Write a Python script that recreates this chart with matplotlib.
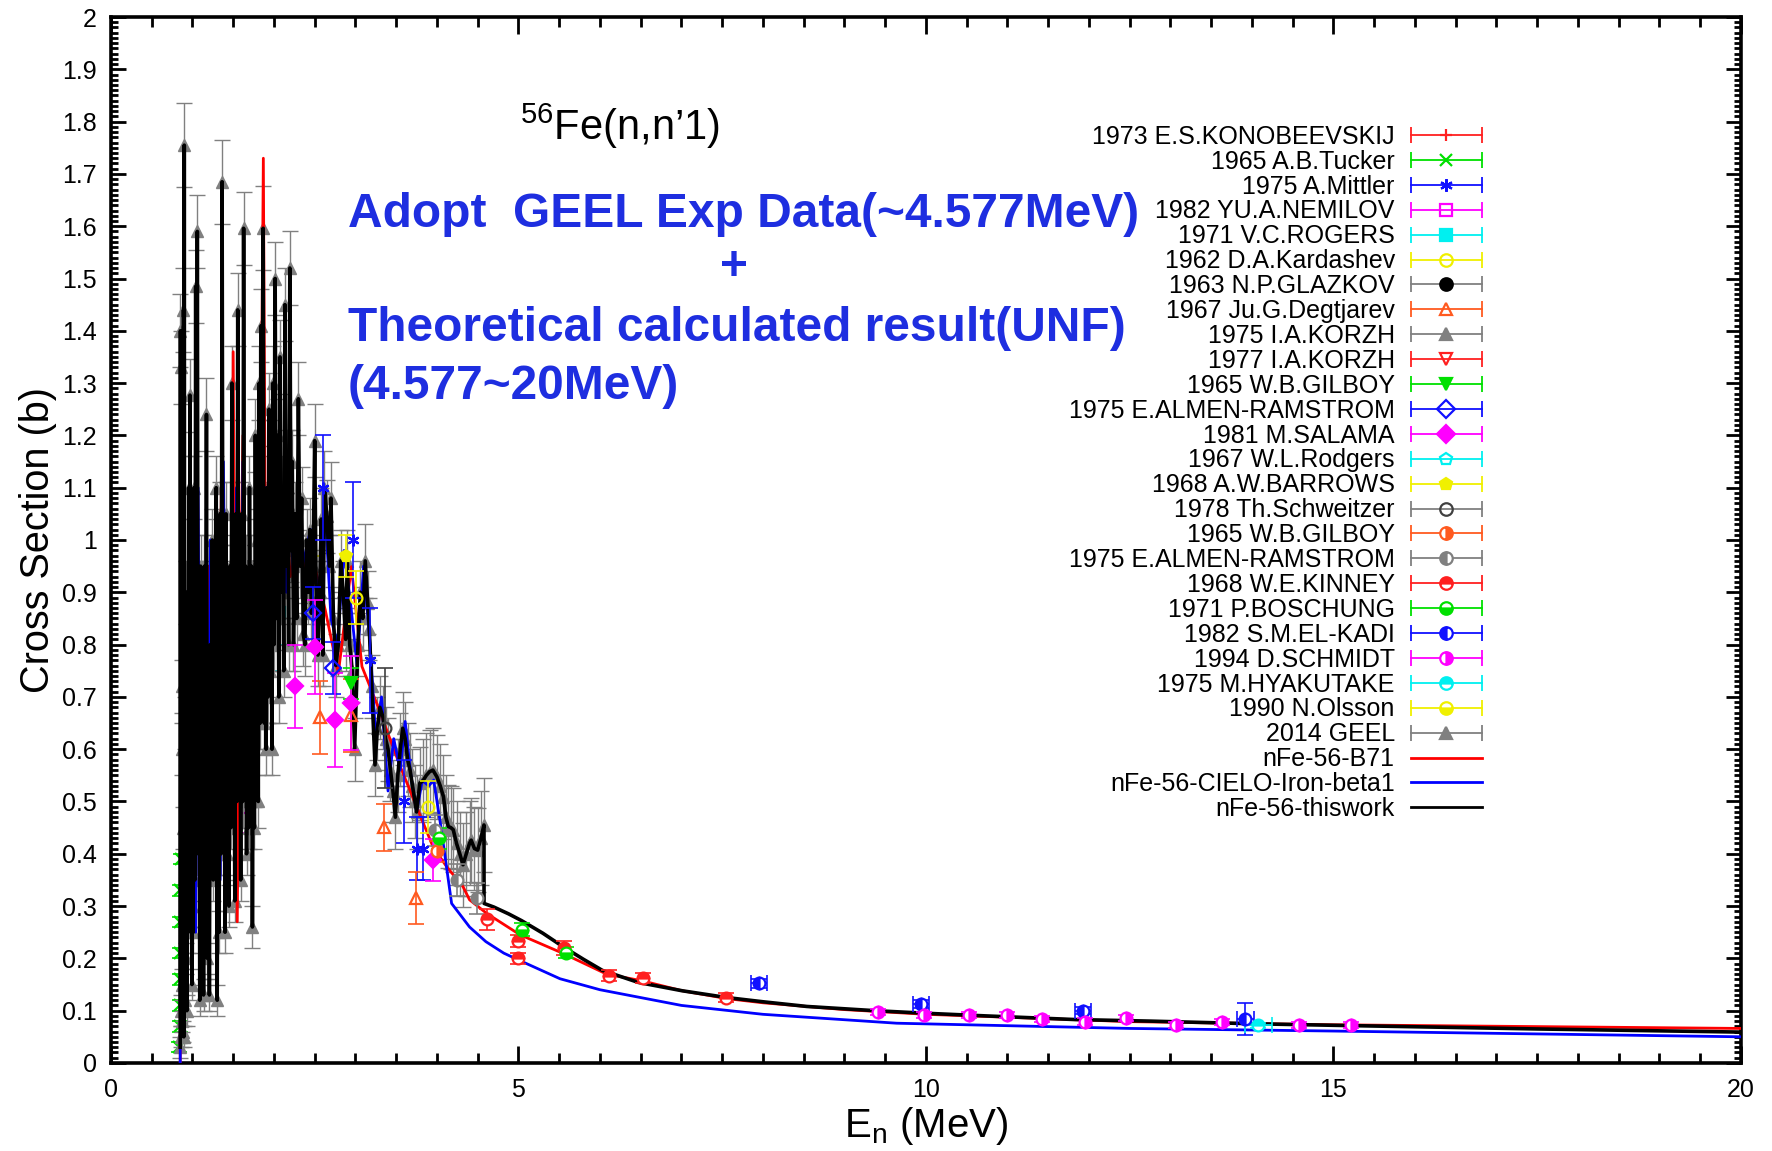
import matplotlib
matplotlib.use('Agg')
import matplotlib.pyplot as plt
from matplotlib.lines import Line2D
from matplotlib.legend_handler import HandlerLine2D
from matplotlib.ticker import MultipleLocator, FuncFormatter

plt.rcParams['font.family'] = ['Liberation Sans', 'DejaVu Sans']
plt.rcParams['mathtext.fontset'] = 'custom'
plt.rcParams['mathtext.rm'] = 'Liberation Sans'
plt.rcParams['mathtext.it'] = 'Liberation Sans:italic'

# ---- 2014 GEEL measurement (used up to 4.577 MeV) ----
geel_e = [0.850, 0.853, 0.856, 0.859, 0.862, 0.866, 0.870, 0.874, 0.878, 0.882,
          0.886, 0.890, 0.895, 0.900, 0.905, 0.912, 0.918, 0.925, 0.932, 0.940,
          0.948, 0.955, 0.962, 0.970, 0.978, 0.986, 0.994, 1.002, 1.010, 1.020,
          1.030, 1.040, 1.050, 1.060, 1.070, 1.080, 1.090, 1.100, 1.112, 1.124,
          1.136, 1.148, 1.160, 1.172, 1.184, 1.196, 1.208, 1.220, 1.232, 1.244,
          1.256, 1.268, 1.280, 1.292, 1.304, 1.316, 1.328, 1.340, 1.352, 1.364,
          1.376, 1.388, 1.400, 1.412, 1.424, 1.436, 1.448, 1.460, 1.472, 1.484,
          1.496, 1.508, 1.520, 1.532, 1.544, 1.556, 1.568, 1.580, 1.592, 1.604,
          1.616, 1.628, 1.640, 1.652, 1.664, 1.676, 1.688, 1.700, 1.712, 1.724,
          1.736, 1.748, 1.760, 1.772, 1.784, 1.796, 1.808, 1.820, 1.832, 1.844,
          1.856, 1.868, 1.880, 1.892, 1.904, 1.916, 1.928, 1.940, 1.952, 1.964,
          1.976, 1.988, 2.000, 2.015, 2.030, 2.045, 2.060, 2.075, 2.090, 2.105,
          2.120, 2.135, 2.150, 2.165, 2.180, 2.195, 2.210, 2.225, 2.240, 2.260,
          2.280, 2.300, 2.320, 2.340, 2.360, 2.380, 2.400, 2.420, 2.440, 2.460,
          2.480, 2.500, 2.520, 2.540, 2.560, 2.580, 2.600, 2.620, 2.650, 2.680,
          2.700, 2.730, 2.760, 2.790, 2.820, 2.850, 2.880, 2.900, 2.930, 2.960,
          2.990, 3.030, 3.060, 3.090, 3.120, 3.150, 3.170, 3.200, 3.240, 3.270,
          3.300, 3.340, 3.370, 3.400, 3.430, 3.460, 3.490, 3.520, 3.550, 3.580,
          3.610, 3.640, 3.670, 3.700, 3.730, 3.750, 3.790, 3.830, 3.870, 3.910,
          3.950, 4.000, 4.040, 4.080, 4.110, 4.140, 4.170, 4.200, 4.240, 4.280,
          4.320, 4.360, 4.400, 4.420, 4.460, 4.500, 4.540, 4.577]
geel_xs = [0.03, 1.40, 0.10, 1.33, 0.05, 0.72, 0.15, 0.60, 0.08, 0.45,
           0.06, 1.44, 0.05, 1.755, 0.12, 0.65, 0.20, 0.90, 0.10, 0.55,
           0.25, 1.10, 0.30, 1.277, 0.30, 0.80, 0.15, 0.70, 0.25, 1.10,
           0.35, 1.485, 0.40, 1.59, 0.55, 0.90, 0.12, 0.95, 0.30, 0.85,
           0.13, 0.95, 0.40, 1.24, 0.20, 0.75, 0.13, 0.80, 0.40, 1.00,
           0.35, 0.90, 0.50, 1.10, 0.12, 0.85, 0.25, 1.05, 0.40, 1.685,
           0.60, 0.85, 0.25, 1.05, 0.40, 0.70, 0.30, 0.95, 0.45, 1.30,
           0.55, 0.90, 0.31, 1.05, 0.50, 1.44, 0.60, 0.90, 0.35, 1.05,
           0.50, 1.596, 0.70, 0.95, 0.40, 0.85, 0.45, 1.10, 0.55, 0.95,
           0.26, 0.80, 0.45, 1.20, 0.70, 1.00, 0.50, 1.30, 0.65, 1.41,
           0.70, 1.596, 0.65, 1.00, 0.60, 1.10, 0.70, 1.25, 0.75, 1.05,
           0.60, 1.30, 0.80, 1.50, 0.85, 1.20, 0.70, 1.35, 0.90, 1.10,
           0.75, 1.45, 0.95, 1.15, 0.80, 1.52, 0.98, 1.15, 0.80, 1.05,
           0.85, 1.27, 0.95, 1.08, 0.82, 0.80, 1.00, 0.90, 1.02, 0.86,
           0.95, 1.19, 0.87, 0.78, 0.90, 1.04, 0.78, 1.10, 1.045, 0.95,
           1.08, 0.85, 0.76, 0.80, 0.96, 0.90, 0.81, 0.96, 0.80, 0.75,
           0.60, 0.80, 0.90, 0.85, 0.96, 0.88, 0.83, 0.72, 0.57, 0.64,
           0.68, 0.66, 0.62, 0.60, 0.56, 0.52, 0.47, 0.55, 0.60, 0.64,
           0.62, 0.58, 0.56, 0.53, 0.50, 0.48, 0.535, 0.54, 0.55, 0.557,
           0.56, 0.547, 0.53, 0.509, 0.47, 0.452, 0.45, 0.446, 0.42, 0.40,
           0.379, 0.40, 0.42, 0.426, 0.41, 0.407, 0.43, 0.455]
geel_err = [0.02, 0.07, 0.03, 0.07, 0.02, 0.05, 0.03, 0.05, 0.02, 0.04,
            0.02, 0.08, 0.02, 0.08, 0.03, 0.05, 0.03, 0.06, 0.03, 0.05,
            0.04, 0.06, 0.04, 0.07, 0.04, 0.05, 0.03, 0.05, 0.04, 0.06,
            0.04, 0.07, 0.04, 0.07, 0.05, 0.06, 0.03, 0.06, 0.04, 0.05,
            0.03, 0.06, 0.04, 0.07, 0.03, 0.05, 0.03, 0.05, 0.04, 0.06,
            0.04, 0.06, 0.05, 0.06, 0.03, 0.05, 0.04, 0.06, 0.04, 0.08,
            0.05, 0.05, 0.04, 0.06, 0.04, 0.05, 0.04, 0.06, 0.04, 0.07,
            0.05, 0.06, 0.04, 0.06, 0.05, 0.07, 0.05, 0.06, 0.04, 0.06,
            0.05, 0.07, 0.05, 0.06, 0.04, 0.05, 0.04, 0.06, 0.05, 0.06,
            0.04, 0.05, 0.04, 0.07, 0.05, 0.06, 0.05, 0.07, 0.05, 0.07,
            0.05, 0.08, 0.05, 0.06, 0.05, 0.06, 0.05, 0.07, 0.05, 0.06,
            0.05, 0.07, 0.05, 0.07, 0.06, 0.07, 0.05, 0.07, 0.06, 0.06,
            0.05, 0.07, 0.06, 0.06, 0.05, 0.07, 0.06, 0.06, 0.05, 0.06,
            0.06, 0.07, 0.06, 0.06, 0.06, 0.06, 0.06, 0.06, 0.06, 0.06,
            0.06, 0.07, 0.06, 0.06, 0.06, 0.06, 0.06, 0.07, 0.07, 0.06,
            0.07, 0.06, 0.06, 0.06, 0.06, 0.06, 0.06, 0.06, 0.06, 0.06,
            0.06, 0.06, 0.06, 0.06, 0.07, 0.06, 0.06, 0.06, 0.06, 0.06,
            0.06, 0.06, 0.06, 0.06, 0.06, 0.06, 0.06, 0.07, 0.07, 0.07,
            0.07, 0.07, 0.07, 0.07, 0.07, 0.07, 0.07, 0.08, 0.08, 0.08,
            0.08, 0.08, 0.08, 0.08, 0.08, 0.08, 0.08, 0.08, 0.08, 0.08,
            0.08, 0.08, 0.08, 0.08, 0.08, 0.08, 0.09, 0.09]

# ---- UNF theoretical result (4.577 - 20 MeV), appended to GEEL for "thiswork" ----
unf_e = [4.578, 4.70, 4.88, 5.04, 5.30, 5.54, 5.80, 6.03, 6.47, 7.01, 7.56,
         8.00, 8.54, 9.37, 10.00, 10.73, 11.83, 12.75, 14.00, 15.00, 17.50, 20.00]
unf_xs = [0.305, 0.298, 0.285, 0.272, 0.248, 0.223, 0.198, 0.177, 0.154, 0.138, 0.125,
          0.117, 0.108, 0.100, 0.095, 0.090, 0.083, 0.080, 0.075, 0.072, 0.065, 0.059]

# ---- evaluated files ----
b71_e = [0.850, 0.860, 0.875, 0.890, 0.905, 0.920, 0.940, 0.960, 0.980, 1.000,
         1.030, 1.060, 1.090, 1.120, 1.160, 1.200, 1.240, 1.280, 1.320, 1.360,
         1.400, 1.440, 1.480, 1.500, 1.530, 1.550, 1.580, 1.620, 1.660, 1.700,
         1.740, 1.780, 1.820, 1.870, 1.900, 1.950, 2.000, 2.050, 2.100, 2.150,
         2.200, 2.300, 2.400, 2.480, 2.630, 2.790, 2.950, 3.080, 3.260, 3.550,
         3.750, 3.950, 4.120, 4.320, 4.400, 4.610, 5.020, 5.540, 6.080, 6.520,
         7.010, 7.560, 8.000, 9.000, 10.00, 12.50, 15.00, 20.00]
b71_xs = [0.00, 0.60, 0.20, 1.20, 0.30, 0.80, 0.25, 0.90, 0.40, 0.85,
          0.30, 1.20, 0.35, 0.80, 0.30, 0.95, 0.40, 0.90, 0.35, 1.20,
          0.45, 0.80, 0.60, 1.36, 0.60, 0.27, 0.80, 1.20, 0.60, 0.90,
          0.55, 0.95, 0.70, 1.73, 0.80, 1.05, 0.85, 1.10, 0.90, 1.05,
          0.93, 1.00, 0.94, 0.962, 0.866, 0.745, 0.949, 0.758, 0.688, 0.567,
          0.490, 0.414, 0.375, 0.337, 0.312, 0.286, 0.245, 0.210, 0.170, 0.157,
          0.138, 0.123, 0.115, 0.102, 0.093, 0.079, 0.073, 0.066]

cielo_e = [0.850, 0.865, 0.880, 0.900, 0.920, 0.945, 0.970, 1.000, 1.040, 1.070,
           1.100, 1.140, 1.180, 1.220, 1.260, 1.300, 1.340, 1.380, 1.420, 1.460,
           1.500, 1.540, 1.580, 1.620, 1.660, 1.700, 1.750, 1.800, 1.850, 1.900,
           1.950, 2.000, 2.050, 2.100, 2.150, 2.200, 2.250, 2.300, 2.350, 2.450,
           2.550, 2.620, 2.700, 2.780, 2.860, 2.940, 3.020, 3.100, 3.180, 3.250,
           3.320, 3.400, 3.470, 3.550, 3.610, 3.680, 3.750, 3.820, 3.900, 3.960,
           4.050, 4.180, 4.400, 4.600, 4.820, 5.000, 5.510, 6.000, 7.000, 8.000,
           9.640, 12.50, 15.00, 20.00]
cielo_xs = [0.00, 0.70, 0.15, 1.10, 0.20, 0.85, 0.30, 0.75, 0.25, 1.10,
            0.30, 0.85, 0.30, 1.00, 0.40, 0.85, 0.35, 1.15, 0.40, 0.85,
            0.50, 1.10, 0.55, 1.15, 0.60, 0.95, 0.55, 1.05, 0.75, 1.10,
            0.80, 1.05, 0.85, 1.10, 0.90, 1.05, 0.90, 1.00, 0.95, 1.02,
            0.88, 1.08, 0.85, 0.80, 0.98, 0.88, 0.76, 0.95, 0.80, 0.62,
            0.70, 0.52, 0.62, 0.56, 0.653, 0.55, 0.48, 0.54, 0.53, 0.541,
            0.45, 0.305, 0.260, 0.232, 0.210, 0.197, 0.161, 0.140, 0.110, 0.093,
            0.076, 0.066, 0.061, 0.050]

# ---- other experiments ----
konob_e, konob_xs, konob_err = [1.45, 1.95], [0.70, 0.90], [0.05, 0.06]
tucker_e = [0.840, 0.842, 0.844, 0.846, 0.848, 0.850, 0.852, 0.854]
tucker_xs = [0.03, 0.07, 0.11, 0.16, 0.21, 0.27, 0.33, 0.39]
tucker_err = [0.01, 0.01, 0.01, 0.01, 0.01, 0.01, 0.01, 0.01]
mittler_e = [2.60, 2.97, 3.18, 3.59, 3.76, 3.83]
mittler_xs = [1.10, 1.00, 0.77, 0.50, 0.41, 0.41]
mittler_err = [0.10, 0.11, 0.10, 0.08, 0.06, 0.06]
nemilov_e, nemilov_xs, nemilov_err = [1.58, 1.60], [0.49, 0.74], [0.05, 0.06]
rogers_e, rogers_xs, rogers_err = [1.81, 2.06], [0.84, 0.86], [0.06, 0.06]
kardashev_e, kardashev_xs, kardashev_err = [3.01, 3.89], [0.89, 0.49], [0.05, 0.05]
glazkov_e, glazkov_xs, glazkov_err = [1.20, 1.90], [0.60, 0.85], [0.05, 0.05]
degtjarev_e = [2.56, 2.94, 3.35, 3.74]
degtjarev_xs = [0.661, 0.665, 0.451, 0.315]
degtjarev_err = [0.07, 0.07, 0.045, 0.05]
korzh75_e, korzh75_xs, korzh75_err = [1.30, 1.70, 2.10], [0.70, 0.90, 1.00], [0.06, 0.06, 0.06]
korzh77_e, korzh77_xs, korzh77_err = [1.40, 2.00], [0.75, 0.95], [0.06, 0.06]
gilboy_e, gilboy_xs, gilboy_err = [2.95], [0.726], [0.03]
almen_e, almen_xs, almen_err = [2.48, 2.73], [0.86, 0.755], [0.05, 0.05]
salama_e = [2.26, 2.50, 2.75, 2.94, 3.95]
salama_xs = [0.72, 0.796, 0.656, 0.688, 0.388]
salama_err = [0.08, 0.09, 0.09, 0.09, 0.04]
rodgers_e, rodgers_xs, rodgers_err = [1.95], [0.80], [0.05]
barrows_e, barrows_xs, barrows_err = [2.88], [0.97], [0.04]
schweitzer_e, schweitzer_xs, schweitzer_err = [3.36], [0.64], [0.115]
gilboy2_e, gilboy2_xs, gilboy2_err = [4.00], [0.405], [0.02]
almen2_e, almen2_xs, almen2_err = [3.98, 4.24, 4.49], [0.445, 0.35, 0.315], [0.03, 0.03, 0.03]
kinney_e = [4.61, 5.00, 5.00, 5.56, 6.11, 6.53, 7.55]
kinney_xs = [0.275, 0.233, 0.200, 0.220, 0.167, 0.162, 0.125]
kinney_err = [0.020, 0.012, 0.010, 0.014, 0.010, 0.010, 0.008]
boschung_e, boschung_xs, boschung_err = [4.03, 5.04, 5.58], [0.43, 0.255, 0.211], [0.02, 0.013, 0.01]
elkadi_e = [7.95, 9.94, 11.93, 13.92]
elkadi_xs = [0.152, 0.113, 0.100, 0.084]
elkadi_err = [0.008, 0.008, 0.007, 0.030]
elkadi_xerr = [0.10, 0.10, 0.10, 0.10]
schmidt_e = [9.41, 9.98, 10.53, 11.00, 11.42, 11.95, 12.46, 13.07, 13.63, 14.58, 15.21]
schmidt_xs = [0.097, 0.091, 0.091, 0.091, 0.084, 0.079, 0.086, 0.072, 0.078, 0.073, 0.073]
schmidt_err = [0.006, 0.006, 0.006, 0.006, 0.006, 0.006, 0.006, 0.006, 0.006, 0.006, 0.006]
hyakutake_e, hyakutake_xs, hyakutake_err, hyakutake_xerr = [14.08], [0.072], [0.005], [0.17]
olsson_e, olsson_xs, olsson_err = [2.45], [0.92], [0.05]

RED, GREEN, BLUE, MAG, CYAN, YEL = '#ff2020', '#00e000', '#1010ff', '#ff00ff', '#00f0f0', '#f0f000'
ORNG, GRAY, DGRAY = '#ff5a20', '#808080', '#404040'

# label, e, xs, err, color, marker, fillstyle, zorder
exps = [
    ('1973 E.S.KONOBEEVSKIJ', konob_e, konob_xs, konob_err, RED, '+', 'full', 1.5),
    ('1965 A.B.Tucker', tucker_e, tucker_xs, tucker_err, GREEN, 'x', 'full', 1.5),
    ('1975 A.Mittler', mittler_e, mittler_xs, mittler_err, BLUE, (6, 2, 0), 'full', 5),
    ('1982 YU.A.NEMILOV', nemilov_e, nemilov_xs, nemilov_err, MAG, 's', 'none', 1.5),
    ('1971 V.C.ROGERS', rogers_e, rogers_xs, rogers_err, CYAN, 's', 'full', 1.5),
    ('1962 D.A.Kardashev', kardashev_e, kardashev_xs, kardashev_err, YEL, 'o', 'none', 5),
    ('1963 N.P.GLAZKOV', glazkov_e, glazkov_xs, glazkov_err, 'black', 'o', 'full', 1.5),
    ('1967 Ju.G.Degtjarev', degtjarev_e, degtjarev_xs, degtjarev_err, ORNG, '^', 'none', 5),
    ('1975 I.A.KORZH', korzh75_e, korzh75_xs, korzh75_err, GRAY, '^', 'full', 1.5),
    ('1977 I.A.KORZH', korzh77_e, korzh77_xs, korzh77_err, RED, 'v', 'none', 1.5),
    ('1965 W.B.GILBOY', gilboy_e, gilboy_xs, gilboy_err, GREEN, 'v', 'full', 5),
    ('1975 E.ALMEN-RAMSTROM', almen_e, almen_xs, almen_err, BLUE, 'D', 'none', 5),
    ('1981 M.SALAMA', salama_e, salama_xs, salama_err, MAG, 'D', 'full', 5),
    ('1967 W.L.Rodgers', rodgers_e, rodgers_xs, rodgers_err, CYAN, 'p', 'none', 1.5),
    ('1968 A.W.BARROWS', barrows_e, barrows_xs, barrows_err, YEL, 'p', 'full', 5),
    ('1978 Th.Schweitzer', schweitzer_e, schweitzer_xs, schweitzer_err, DGRAY, 'o', 'none', 5),
    ('1965 W.B.GILBOY', gilboy2_e, gilboy2_xs, gilboy2_err, ORNG, 'o', 'right', 5),
    ('1975 E.ALMEN-RAMSTROM', almen2_e, almen2_xs, almen2_err, GRAY, 'o', 'left', 5),
    ('1968 W.E.KINNEY', kinney_e, kinney_xs, kinney_err, RED, 'o', 'top', 5),
    ('1971 P.BOSCHUNG', boschung_e, boschung_xs, boschung_err, GREEN, 'o', 'bottom', 5),
    ('1982 S.M.EL-KADI', elkadi_e, elkadi_xs, elkadi_err, BLUE, 'o', 'left', 5),
    ('1994 D.SCHMIDT', schmidt_e, schmidt_xs, schmidt_err, MAG, 'o', 'right', 5),
    ('1975 M.HYAKUTAKE', hyakutake_e, hyakutake_xs, hyakutake_err, CYAN, 'o', 'top', 5),
    ('1990 N.Olsson', olsson_e, olsson_xs, olsson_err, YEL, 'o', 'bottom', 1.5),
]
xerrs = {'1982 S.M.EL-KADI': elkadi_xerr, '1975 M.HYAKUTAKE': hyakutake_xerr}

fig = plt.figure(figsize=(17.72, 11.51), dpi=100)
ax = fig.add_axes([0.0626, 0.0765, 0.9199, 0.9087])

for lab, e, xs, err, col, mk, fill, z in exps:
    ax.errorbar(e, xs, yerr=err, xerr=xerrs.get(lab), fmt='none', ecolor=col,
                elinewidth=1.2, capsize=6, capthick=1.2, zorder=z)
    ax.plot(e, xs, ls='none', marker=mk, ms=8.5, color=col, mec=col, mew=1.6,
            fillstyle=fill, markerfacecoloralt='white', zorder=z + 0.1)

ax.errorbar(geel_e, geel_xs, yerr=geel_err, fmt='^', color=GRAY, ms=9,
            elinewidth=1.0, capsize=6, capthick=1.0, zorder=2)

ax.plot(b71_e, b71_xs, color='#ff0000', lw=2.0, zorder=3)
ax.plot(cielo_e, cielo_xs, color='#0000ff', lw=2.0, zorder=3)
ax.plot(geel_e + unf_e, geel_xs + unf_xs, color='black', lw=2.6, zorder=4)

ax.set_xlim(0, 20)
ax.set_ylim(0, 2)
ax.xaxis.set_major_locator(MultipleLocator(5))
ax.xaxis.set_minor_locator(MultipleLocator(0.5))
ax.yaxis.set_major_locator(MultipleLocator(0.1))
ax.yaxis.set_minor_locator(MultipleLocator(0.01))
ax.yaxis.set_major_formatter(FuncFormatter(lambda v, p: f'{v:g}'))
ax.tick_params(which='both', direction='in', top=True, right=True, width=2,
               labelsize=18)
ax.tick_params(axis='y', which='major', length=11, pad=10)
ax.tick_params(axis='y', which='minor', length=5)
ax.tick_params(axis='x', which='major', length=12, pad=11)
ax.tick_params(axis='x', which='minor', length=7)
for sp in ax.spines.values():
    sp.set_linewidth(2.6)

ax.set_ylabel('Cross Section (b)', fontsize=28.5, labelpad=4)
ax.set_xlabel(r'E$_{\mathregular{n}}$ (MeV)', fontsize=29, labelpad=2)

# legend: text left, error-bar style sample right
handles, labels, hmap = [], [], {}
for lab, e, xs, err, col, mk, fill, z in exps + [('2014 GEEL', None, None, None, GRAY, '^', 'full', 0)]:
    line_col = GRAY if col in ('black', DGRAY) else col
    cap = Line2D([], [], color=line_col, lw=1.3, marker='|', ms=12, mew=1.3)
    hmap[cap] = HandlerLine2D(numpoints=2, marker_pad=0)
    pt = Line2D([], [], ls='none', marker=mk, ms=9, color=col, mec=col, mew=1.6,
                fillstyle=fill, markerfacecoloralt='white')
    handles.append((cap, pt))
    labels.append(lab)
for lab, col in [('nFe-56-B71', '#ff0000'), ('nFe-56-CIELO-Iron-beta1', '#0000ff'),
                 ('nFe-56-thiswork', 'black')]:
    handles.append(Line2D([], [], color=col, lw=2))
    labels.append(lab)

ax.legend(handles, labels, handler_map=hmap, markerfirst=False, loc='upper right',
          bbox_to_anchor=(0.841, 0.897), frameon=False, fontsize=18,
          handlelength=2.84, handletextpad=0.64, labelspacing=0.036,
          borderpad=0, borderaxespad=0)

fig.text(0.2934, 0.8784, r'$^{\mathregular{56}}$Fe(n,n’1)', fontsize=30, va='baseline')
BTXT = '#1e2ee0'
fig.text(0.1964, 0.8028, 'Adopt  GEEL Exp Data(~4.577MeV)', fontsize=34.5,
         fontweight='bold', color=BTXT, va='baseline')
fig.text(0.4142, 0.768, '+', fontsize=34.5, fontweight='bold', color=BTXT,
         ha='center', va='center')
fig.text(0.1964, 0.7037, 'Theoretical calculated result(UNF)', fontsize=34.5,
         fontweight='bold', color=BTXT, va='baseline')
fig.text(0.1964, 0.6533, '(4.577~20MeV)', fontsize=34.5, fontweight='bold',
         color=BTXT, va='baseline')

fig.savefig('out.png', dpi=100)
